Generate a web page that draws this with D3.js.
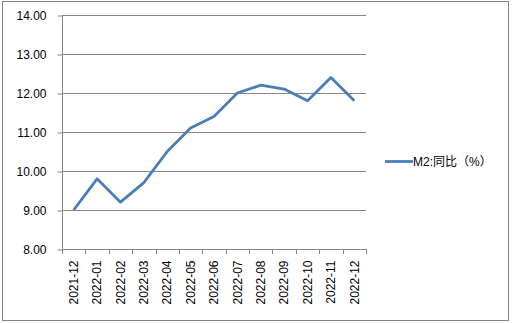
<!DOCTYPE html>
<html>
<head>
<meta charset="utf-8">
<script src="https://cdn.jsdelivr.net/npm/d3@7"></script>
<style>
  body { margin: 0; background: #fff; }
  text { font-family: "Liberation Sans", Arial, sans-serif; }
</style>
</head>
<body>
<div id="chart"></div>
<script>
const months = ["2021-12", "2022-01", "2022-02", "2022-03", "2022-04", "2022-05", "2022-06",
  "2022-07", "2022-08", "2022-09", "2022-10", "2022-11", "2022-12"];
const m2Yoy = [9.0, 9.8, 9.2, 9.7, 10.5, 11.1, 11.4, 12.0, 12.2, 12.1, 11.8, 12.4, 11.8];
const yTicks = [8, 9, 10, 11, 12, 13, 14];
const seriesName = "M2:同比（%）";

const W = 514, H = 323;
const PLOT = { LEFT: 62, RIGHT: 366, TOP: 15, BOTTOM: 249 };
const lineColor = "#4a7ebb";
const gridColor = "#868686";

const svg = d3.select("#chart").append("svg")
  .attr("width", W).attr("height", H);

// outer chart border
svg.append("rect")
  .attr("x", 2.5).attr("y", 1.5)
  .attr("width", 506).attr("height", 319)
  .attr("fill", "#fff").attr("stroke", gridColor).attr("stroke-width", 1);

const x = d3.scaleBand().domain(months).range([PLOT.LEFT, PLOT.RIGHT]);
const y = d3.scaleLinear().domain([8, 14]).range([PLOT.BOTTOM, PLOT.TOP]);

// gridlines
svg.append("g").selectAll("line")
  .data(yTicks.filter(d => d > 8))
  .join("line")
  .attr("x1", PLOT.LEFT).attr("x2", PLOT.RIGHT)
  .attr("y1", d => Math.round(y(d)) + 0.5).attr("y2", d => Math.round(y(d)) + 0.5)
  .attr("stroke", gridColor);

// y axis
const yAxis = svg.append("g")
  .attr("transform", `translate(${PLOT.LEFT + 0.5},0.5)`)
  .call(d3.axisLeft(y).tickValues(yTicks).tickFormat(d3.format(".2f")).tickSize(5).tickPadding(11));
yAxis.select(".domain").attr("stroke", gridColor).attr("d", `M0,${PLOT.TOP}V${PLOT.BOTTOM}`);
yAxis.selectAll(".tick line").attr("stroke", gridColor);
yAxis.selectAll("text").attr("fill", "#000").style("font-size", "12px");

// x axis
const xAxis = svg.append("g")
  .attr("transform", `translate(0,${PLOT.BOTTOM + 0.5})`)
  .call(d3.axisBottom(x).tickSize(0));
xAxis.select(".domain").attr("stroke", gridColor).attr("d", `M${PLOT.LEFT},0H${PLOT.RIGHT}`);
xAxis.selectAll(".tick text")
  .attr("fill", "#000").style("font-size", "12px")
  .attr("transform", "rotate(-90)")
  .attr("text-anchor", "end")
  .attr("x", -11).attr("y", 0).attr("dy", "0.35em");

// x tick marks at category boundaries
const bounds = months.map(m => x(m)).concat([PLOT.RIGHT]);
svg.append("g").selectAll("line")
  .data(bounds)
  .join("line")
  .attr("x1", d => Math.round(d) + 0.5).attr("x2", d => Math.round(d) + 0.5)
  .attr("y1", PLOT.BOTTOM).attr("y2", PLOT.BOTTOM + 5)
  .attr("stroke", gridColor);

// series line
const line = d3.line()
  .x((d, i) => x(months[i]) + x.bandwidth() / 2)
  .y(d => y(d));

svg.append("path")
  .datum(m2Yoy)
  .attr("d", line)
  .attr("fill", "none")
  .attr("stroke", lineColor)
  .attr("stroke-width", 2.8)
  .attr("stroke-linejoin", "round");

// legend
const legend = svg.append("g").attr("transform", "translate(385,161.5)");
legend.append("line")
  .attr("x1", 0).attr("x2", 28)
  .attr("stroke", lineColor).attr("stroke-width", 2.8);
legend.append("text")
  .attr("x", 28).attr("dy", "0.35em")
  .style("font-size", "12px")
  .style("font-family", "'Liberation Sans', 'Noto Sans CJK SC', sans-serif")
  .text(seriesName);
</script>
</body>
</html>
